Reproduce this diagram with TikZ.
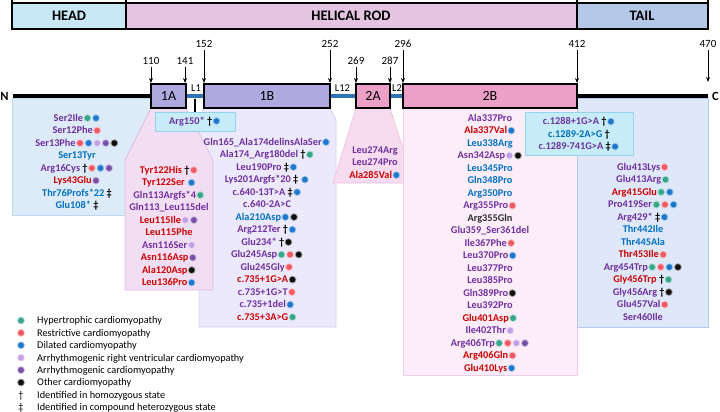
\documentclass[tikz,border=0pt]{standalone}
\usepackage{fontspec}
\setmainfont{Carlito}
\usetikzlibrary{arrows.meta}

\definecolor{tpur}{RGB}{112,48,160}
\definecolor{tred}{RGB}{204,0,0}
\definecolor{tblu}{RGB}{0,112,192}
\definecolor{tblk}{RGB}{45,45,45}
\definecolor{cG}{RGB}{52,168,137}
\definecolor{cR}{RGB}{240,90,100}
\definecolor{cB}{RGB}{30,120,205}
\definecolor{cL}{RGB}{195,160,230}
\definecolor{cV}{RGB}{120,80,170}
\definecolor{cK}{RGB}{15,15,15}
\definecolor{hdHead}{RGB}{200,232,246}
\definecolor{hdRod}{RGB}{229,196,226}
\definecolor{hdTail}{RGB}{180,200,232}
\definecolor{boxA}{RGB}{174,169,223}
\definecolor{boxB}{RGB}{236,160,200}
\definecolor{lnkc}{RGB}{46,117,182}
\definecolor{rgHead}{RGB}{221,235,248}
\definecolor{rgHeadE}{RGB}{190,214,238}
\definecolor{rgA}{RGB}{242,222,242}
\definecolor{rgAE}{RGB}{222,188,226}
\definecolor{rgB}{RGB}{237,233,252}
\definecolor{rgBE}{RGB}{215,208,242}
\definecolor{rgC}{RGB}{246,220,238}
\definecolor{rgCE}{RGB}{236,196,226}
\definecolor{rgD}{RGB}{252,237,248}
\definecolor{rgDE}{RGB}{238,206,230}
\definecolor{rgTail}{RGB}{222,232,249}
\definecolor{rgTailE}{RGB}{182,201,236}
\definecolor{cyanbox}{RGB}{197,236,247}
\definecolor{cyanE}{RGB}{150,210,236}

\newcommand\mutfont{\bfseries\fontsize{10.3}{12}\selectfont}
\newcommand\mdot[1]{\tikz[baseline={(0pt,-3.3pt)}]{\path[draw=none,fill=none] (-4.3pt,0pt) (4.3pt,0pt); \fill[draw=none,#1!40!white] (0pt,0pt) circle (3.9pt); \fill[draw=none,#1] (0pt,0pt) circle (2.9pt);}}
\newcommand\dG{\mdot{cG}}
\newcommand\dR{\mdot{cR}}
\newcommand\dB{\mdot{cB}}
\newcommand\dL{\mdot{cL}}
\newcommand\dV{\mdot{cV}}
\newcommand\dK{\mdot{cK}}
\newcommand\mP[1]{\textcolor{tpur}{#1}}
\newcommand\mR[1]{\textcolor{tred}{#1}}
\newcommand\mB[1]{\textcolor{tblu}{#1}}
\newcommand\mK[1]{\textcolor{tblk}{#1}}
\newcommand\mcol[4]{\foreach \mt [count=\i] in {#4}{\node[mut] (#1\i) at (#2,{#3+3.4+12.5*(\i-1)}) {\mt};}}

\begin{document}
\begin{tikzpicture}[x=1pt,y=-1pt,
  hdr/.style={font=\bfseries\fontsize{14.5}{16}\selectfont, inner sep=0pt},
  num/.style={font=\fontsize{11}{12}\selectfont, inner sep=0pt},
  dom/.style={draw=black, line width=1.2pt, minimum height=24pt, inner sep=0pt, font=\fontsize{14}{16}\selectfont},
  lnk/.style={draw=lnkc, line width=4pt, shorten <=0.6pt, shorten >=0.6pt},
  mainln/.style={draw=black, line width=4pt},
  arr/.style={-{Stealth[length=5pt,width=4pt]}, line width=0.8pt, shorten <=2pt},
  lk/.style={font=\fontsize{10.5}{12}\selectfont, inner sep=0pt},
  mut/.style={font=\mutfont, anchor=base, inner sep=0pt},
  leg/.style={font=\fontsize{10.3}{12}\selectfont, anchor=base west, inner sep=0pt},
  reg/.style={line width=0.7pt},
  endl/.style={font=\bfseries\fontsize{12.5}{14}\selectfont, inner sep=0pt}
]
\useasboundingbox (0,0) rectangle (720,412);
\fill[white] (0,0) rectangle (720,412);

% header bar
\fill[hdHead] (12,3) rectangle (126,29);
\fill[hdRod] (126,3) rectangle (577,29);
\fill[hdTail] (577,3) rectangle (708,29);
\draw[line width=1.3pt] (12,3) -- (708,3) (12,29) -- (708,29);
\foreach \xx in {12,126,577,708} \draw[line width=1.6pt] (\xx,0) -- (\xx,30);
\node[hdr] (hHead) at (69,16) {HEAD};
\node[hdr] (hRod) at (351,16) {HELICAL ROD};
\node[hdr] (hTail) at (642,16) {TAIL};

% regions
\draw[reg, fill=rgHead, draw=rgHeadE] (12,98) rectangle (150,215);
\draw[reg, fill=rgB, draw=rgBE] (204,108) -- (330,108) -- (336,120) -- (336,327) -- (199,327) -- (199,120) -- cycle;
\draw[reg, fill=rgA, draw=rgAE] (151,108) -- (186,108) -- (213,160) -- (213,290) -- (125,290) -- (125,160) -- cycle;
\draw[reg, fill=rgC, draw=rgCE] (356,108) -- (390,108) -- (414,183) -- (333,183) -- cycle;
\draw[reg, fill=rgD, draw=rgDE] (403,108) rectangle (577,375);
\draw[reg, fill=rgTail, draw=rgTailE] (577,98) rectangle (708,327);
\draw[reg, fill=cyanbox, draw=cyanE] (525,112) rectangle (633,155);

% domain boxes
\node[dom, fill=boxA, minimum width=35pt] (b1A) at (168.5,96) {1A};
\node[dom, fill=boxA, minimum width=126pt] (b1B) at (267,96) {1B};
\node[dom, fill=boxB, minimum width=34pt] (b2A) at (373,96) {2A};
\node[dom, fill=boxB, minimum width=174pt] (b2B) at (490,96) {2B};

% main line and linkers
\coordinate (nstart) at (13,96);
\coordinate (cend) at (708,96);
\draw[mainln, shorten >=0.6pt] (nstart) -- (b1A.west);
\draw[mainln, shorten <=0.6pt] (b2B.east) -- (cend);
\draw[lnk] (b1A.east) -- (b1B.west);
\draw[lnk] (b1B.east) -- (b2A.west);
\draw[lnk] (b2A.east) -- (b2B.west);
\node[lk] (lL1) at (196,88.5) {L1};
\node[lk] (lL12) at (342.5,88.5) {L12};
\node[lk] (lL2) at (397,88.5) {L2};
\node[endl] (nN) at (4.5,96) {N};
\node[endl] (nC) at (715.5,96) {C};

% position arrows
\foreach \nm/\xx/\yy/\ty in {110/151/61/83, 141/185/61/83, 152/204/44/83, 252/330/44/83, 269/356/61/83, 287/390/61/83, 296/403/44/83, 412/577/44/83, 470/708/44/82} {
  \node[num] (n\nm) at (\xx,\yy) {\nm};
  \coordinate (t\nm) at (\xx,\ty);
  \draw[arr] (n\nm) -- (t\nm);
}

% Arg150 box and its connector
\node[draw=cyanE, fill=cyanbox, line width=0.7pt, minimum width=80pt, minimum height=19pt, inner sep=0pt, font=\mutfont] (arg150) at (195,121.5) {\mP{Arg150*} †\dB};
\coordinate (l1mid) at (195,98.5);
\draw[line width=1.5pt] (l1mid) -- (arg150.north);

% mutation columns
\mcol{hd}{77}{118}{\mP{Ser2Ile}\dG\dB, \mP{Ser12Phe}\dR, \mP{Ser13Phe}\dR\dB\dL\dV\dK, \mB{Ser13Tyr}, \mP{Arg16Cys} †\dR\dB\dV, \mR{Lys43Glu}\dV, \mB{Thr76Profs*22} ‡, \mB{Glu108*} ‡}

\mcol{oa}{169}{170}{\mR{Tyr122His} †\dR, \mR{Tyr122Ser} \dB, \mP{Gln113Argfs*4}\dG, \mP{Gln113\_Leu115del}, \mR{Leu115Ile}\dL\dV, \mR{Leu115Phe}, \mP{Asn116Ser}\dL, \mR{Asn116Asp}\dV, \mR{Ala120Asp}\dK, \mR{Leu136Pro}\dB}

\mcol{ob}{267}{142}{\mP{Gln165\_Ala174delinsAlaSer}\dB, \mP{Ala174\_Arg180del} †\dG, \mP{Leu190Pro} ‡\dB, \mP{Lys201Argfs*20} ‡ \dB, \mP{c.640-13T>A} ‡\dB, \mP{c.640-2A>C}, \mB{Ala210Asp}\dB\dK, \mP{Arg212Ter} †\dB, \mP{Glu234*} †\dK, \mP{Glu245Asp}\dG\dR\dK, \mP{Glu245Gly}\dR, \mR{c.735+1G>A}\dK, \mP{c.735+1G>T}\dR, \mP{c.735+1del}\dB, \mR{c.735+3A>G}\dG}

\mcol{ta}{375}{150}{\mP{Leu274Arg}, \mP{Leu274Pro}, \mR{Ala285Val}\dB}

\mcol{tb}{490}{118}{\mP{Ala337Pro}, \mR{Ala337Val}\dB, \mB{Leu338Arg}, \mP{Asn342Asp}\dL\dK, \mB{Leu345Pro}, \mB{Gln348Pro}, \mB{Arg350Pro}, \mP{Arg355Pro}\dR, \mK{Arg355Gln}, \mP{Glu359\_Ser361del}, \mP{Ile367Phe}\dR, \mP{Leu370Pro}\dB, \mP{Leu377Pro}, \mP{Leu385Pro}, \mP{Gln389Pro}\dK, \mP{Leu392Pro}, \mR{Glu401Asp}\dG, \mP{Ile402Thr}\dL, \mP{Arg406Trp}\dG\dR\dL\dV, \mR{Arg406Gln}\dR, \mR{Glu410Lys}\dB}

\mcol{sp}{579}{121.5}{\mP{c.1288+1G>A} †\dB, \mB{c.1289-2A>G} †, \mP{c.1289-741G>A} ‡\dB}

\mcol{tl}{643}{167}{\mP{Glu413Lys}\dR, \mP{Glu413Arg}\dG, \mR{Arg415Glu}\dG\dB, \mP{Pro419Ser}\dG\dR\dB, \mP{Arg429*} ‡\dB, \mB{Thr442Ile}, \mB{Thr445Ala}, \mR{Thr453Ile}\dR, \mP{Arg454Trp}\dG\dR\dB\dK, \mR{Gly456Trp} †\dG, \mP{Gly456Arg} †\dK, \mP{Glu457Val}\dR, \mP{Ser460Ile}}

% legend
\foreach \cc/\txt [count=\i] in {cG/Hypertrophic cardiomyopathy, cR/Restrictive cardiomyopathy, cB/Dilated cardiomyopathy, cL/Arrhythmogenic right ventricular cardiomyopathy, cV/Arrhythmogenic cardiomyopathy, cK/Other cardiomyopathy} {
  \node[inner sep=0pt, anchor=base] (ld\i) at (21,{320.5+3.3+12.4*(\i-1)}) {\mdot{\cc}};
  \node[leg] (lt\i) at (37,{320.5+3.4+12.4*(\i-1)}) {\txt};
}
\node[inner sep=0pt, anchor=base, font=\fontsize{10.3}{12}\selectfont] (ld7) at (21,398.4) {†};
\node[leg] (lt7) at (37,398.4) {Identified in homozygous state};
\node[inner sep=0pt, anchor=base, font=\fontsize{10.3}{12}\selectfont] (ld8) at (21,410.4) {‡};
\node[leg] (lt8) at (37,410.4) {Identified in compound heterozygous state};
\end{tikzpicture}
\end{document}
